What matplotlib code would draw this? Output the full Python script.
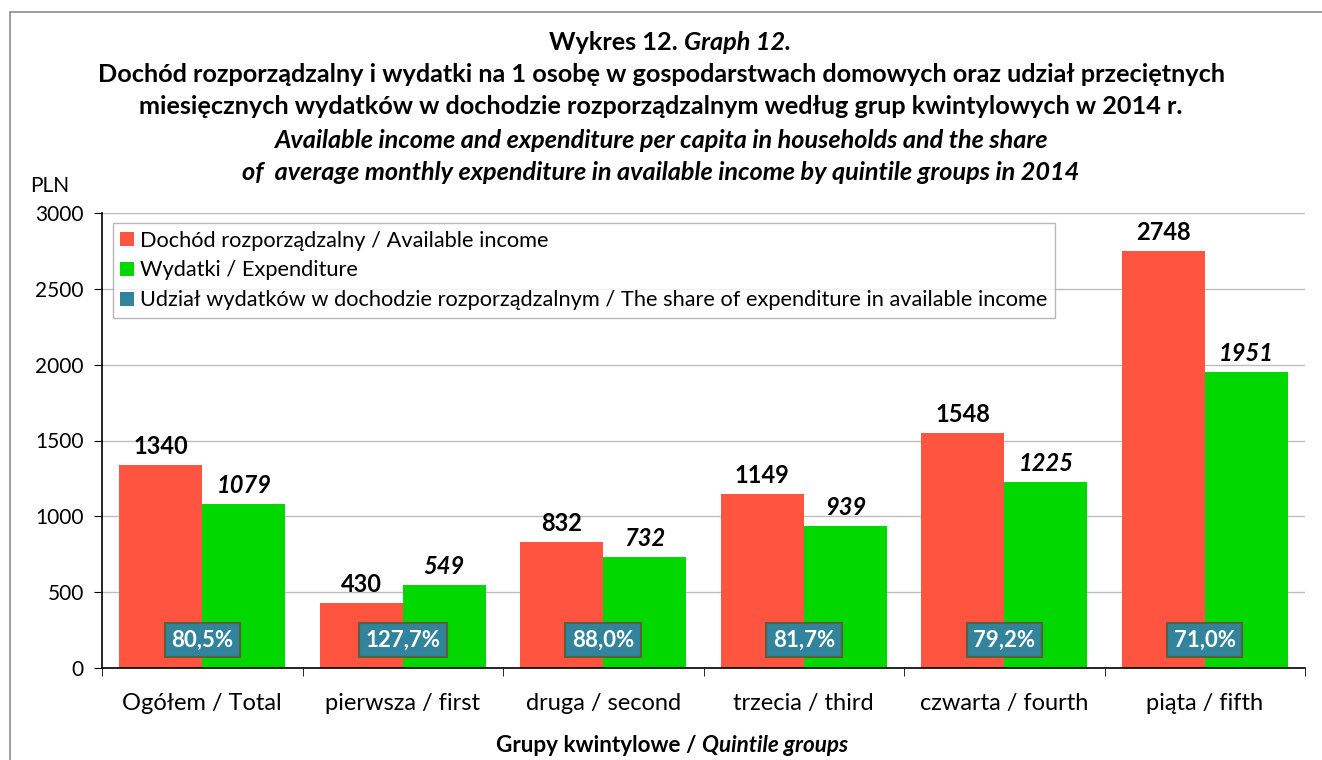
import matplotlib.pyplot as plt
import numpy as np
from matplotlib.patches import Rectangle

categories = ["Ogółem / Total", "pierwsza / first", "druga / second",
              "trzecia / third", "czwarta / fourth", "piąta / fifth"]
income = [1340, 430, 832, 1149, 1548, 2748]
expenditure = [1079, 549, 732, 939, 1225, 1951]
share = ["80,5%", "127,7%", "88,0%", "81,7%", "79,2%", "71,0%"]

RED = "#FF5540"
GREEN = "#00D800"
TEAL = "#31849B"

plt.rcParams['font.family'] = ['Lato', 'DejaVu Sans']

fig = plt.figure(figsize=(13.22, 7.6), dpi=100)
ax = fig.add_axes([102 / 1322, 92 / 760, 1203 / 1322, 455 / 760])

# outer frame of the chart area
fig.patches.append(Rectangle((10 / 1322, -0.01), 1.2, (760 - 12) / 760 + 0.01,
                             transform=fig.transFigure, fill=False,
                             edgecolor="#8c8c8c", linewidth=1.2))

x = np.arange(len(categories))
w = 0.415
ax.bar(x - w / 2, income, w, color=RED, label="Dochód rozporządzalny / Available income", zorder=2)
ax.bar(x + w / 2, expenditure, w, color=GREEN, label="Wydatki / Expenditure", zorder=2)
# dummy handle for share legend entry
ax.bar([0], [0], 0, color=TEAL,
       label="Udział wydatków w dochodzie rozporządzalnym / The share of expenditure in available income")

for xi, v in zip(x - w / 2, income):
    ax.annotate(str(v), (xi, v), xytext=(0, 5), textcoords="offset points",
                ha="center", va="bottom", fontsize=17, fontweight="bold")
for xi, v in zip(x + w / 2, expenditure):
    ax.annotate(str(v), (xi, v), xytext=(0, 5), textcoords="offset points",
                ha="center", va="bottom", fontsize=17, fontweight="bold", fontstyle="italic")
for xi, s in zip(x, share):
    ax.text(xi, 185, s, ha="center", va="center", color="white", fontsize=16,
            fontweight="bold", zorder=4,
            bbox=dict(boxstyle="square,pad=0.3", facecolor=TEAL, edgecolor="#5a5f3c", linewidth=1.5))

ax.set_xlim(-0.5, len(categories) - 0.5)
ax.set_ylim(0, 3000)
ax.set_yticks(range(0, 3001, 500))
ax.tick_params(axis="y", labelsize=15, length=6, pad=7, direction="out")
ax.yaxis.grid(True, color="#bdbdbd", linewidth=1, zorder=0)
ax.set_axisbelow(True)

ax.set_xticks(x)
ax.set_xticklabels(categories, fontsize=17)
ax.tick_params(axis="x", length=0, pad=18)
ax.set_xticks(np.arange(-0.5, len(categories), 1), minor=True)
ax.tick_params(axis="x", which="minor", length=6, direction="out")

for sp in ["top", "right"]:
    ax.spines[sp].set_visible(False)
ax.spines["left"].set_linewidth(1.2)
ax.spines["bottom"].set_linewidth(1.2)

leg = ax.legend(loc="upper left", bbox_to_anchor=(0.009, 0.978), borderaxespad=0,
                fontsize=15.7, frameon=True, fancybox=False, edgecolor="#a6a6a6",
                handlelength=0.6, handleheight=0.6, handletextpad=0.3,
                borderpad=0.35, labelspacing=0.45)
leg.get_frame().set_linewidth(1)

# titles
def tx(px, py, s, **kw):
    fig.text(px / 1322, 1 - py / 760, s, va="center", **kw)

tx(684, 43, "Wykres 12. ", ha="right", fontsize=18.2, fontweight="bold")
tx(684, 43, "Graph 12.", ha="left", fontsize=18.2, fontweight="bold", fontstyle="italic")
tx(661, 75, "Dochód rozporządzalny i wydatki na 1 osobę w gospodarstwach domowych oraz udział przeciętnych",
   ha="center", fontsize=18.2, fontweight="bold")
tx(661, 107, "miesięcznych wydatków w dochodzie rozporządzalnym według grup kwintylowych w 2014 r.",
   ha="center", fontsize=18.2, fontweight="bold")
tx(661, 140, "Available income and expenditure per capita in households and the share",
   ha="center", fontsize=18.2, fontweight="bold", fontstyle="italic")
tx(661, 172, "of  average monthly expenditure in available income by quintile groups in 2014",
   ha="center", fontsize=18.2, fontweight="bold", fontstyle="italic")

tx(50, 186, "PLN", ha="center", fontsize=15)
tx(702, 745, "Grupy kwintylowe / ", ha="right", fontsize=16.2, fontweight="bold")
tx(702, 745, "Quintile groups", ha="left", fontsize=16.2, fontweight="bold", fontstyle="italic")

fig.savefig("out.png", dpi=100)
